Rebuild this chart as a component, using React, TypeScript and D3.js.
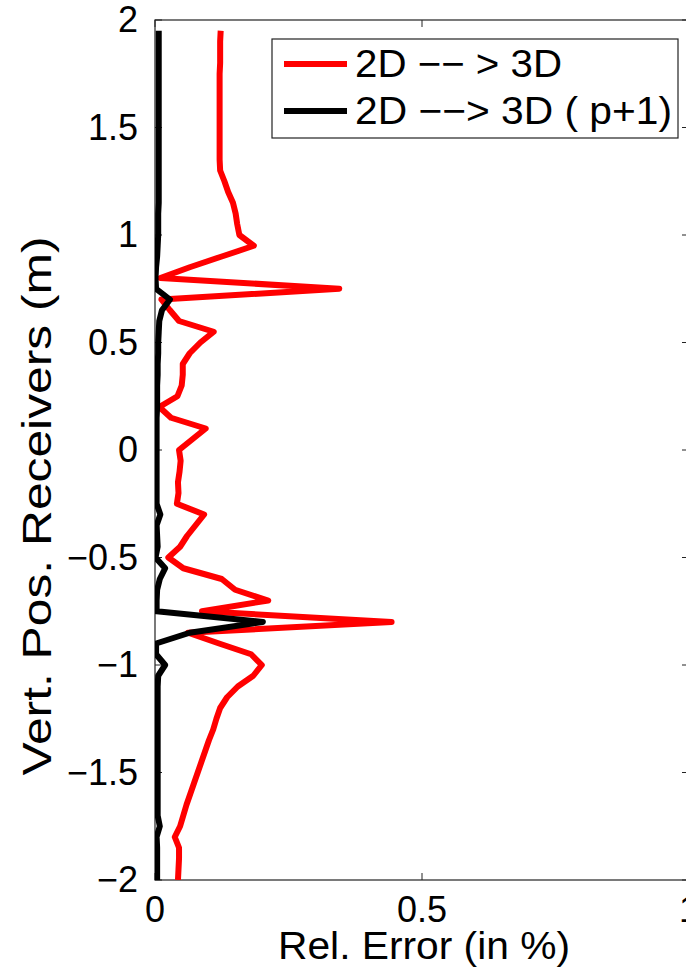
import React from "react";
import * as d3 from "d3";

// Receiver vertical positions (m), top to bottom
const positions = [
  1.95, 1.9, 1.85, 1.8, 1.75, 1.7, 1.65, 1.6, 1.55, 1.5, 1.45, 1.4, 1.35, 1.3, 1.25, 1.2,
  1.15, 1.1, 1.05, 1.0, 0.95, 0.9, 0.85, 0.8, 0.75, 0.7, 0.65, 0.6, 0.55, 0.5, 0.45, 0.4,
  0.35, 0.3, 0.25, 0.2, 0.15, 0.1, 0.05, 0.0, -0.05, -0.1, -0.15, -0.2, -0.25, -0.3, -0.35,
  -0.4, -0.45, -0.5, -0.55, -0.6, -0.65, -0.7, -0.75, -0.8, -0.85, -0.9, -0.95, -1.0, -1.05,
  -1.1, -1.15, -1.2, -1.25, -1.3, -1.35, -1.4, -1.45, -1.5, -1.55, -1.6, -1.65, -1.7, -1.75,
  -1.8, -1.85, -1.9, -1.95, -2.0,
];

// Relative error (%) of the plain 2D -> 3D conversion
const errPlain = [
  0.123, 0.122, 0.122, 0.122, 0.121, 0.121, 0.121, 0.121, 0.121, 0.121, 0.121, 0.121, 0.121,
  0.122, 0.13, 0.137, 0.146, 0.151, 0.154, 0.158, 0.185, 0.125, 0.065, 0.01, 0.345, 0.012,
  0.028, 0.045, 0.11, 0.085, 0.065, 0.052, 0.052, 0.05, 0.042, 0.008, 0.03, 0.095, 0.07,
  0.045, 0.048, 0.046, 0.043, 0.044, 0.041, 0.092, 0.076, 0.06, 0.047, 0.025, 0.053, 0.125,
  0.15, 0.212, 0.088, 0.443, 0.062, 0.12, 0.18, 0.2, 0.184, 0.155, 0.135, 0.122, 0.115,
  0.109, 0.101, 0.094, 0.087, 0.08, 0.073, 0.066, 0.059, 0.053, 0.047, 0.037, 0.045, 0.045,
  0.044, 0.043,
];

// Relative error (%) of the 2D -> 3D conversion with order p+1
const errP1 = [
  0.007, 0.007, 0.007, 0.007, 0.007, 0.007, 0.007, 0.007, 0.007, 0.007, 0.007, 0.007, 0.007,
  0.007, 0.007, 0.007, 0.007, 0.006, 0.006, 0.006, 0.005, 0.004, 0.002, 0.001, 0.002, 0.028,
  0.013, 0.008, 0.007, 0.006, 0.006, 0.005, 0.005, 0.004, 0.004, 0.004, 0.003, 0.003, 0.003,
  0.003, 0.003, 0.003, 0.003, 0.003, 0.003, 0.01, 0.003, 0.004, 0.005, 0.001, 0.019, 0.009,
  0.004, 0.003, 0.003, 0.202, 0.065, 0.002, 0.002, 0.019, 0.006, 0.005, 0.005, 0.005, 0.005,
  0.005, 0.005, 0.005, 0.005, 0.005, 0.005, 0.005, 0.005, 0.005, 0.009, 0.003, 0.004, 0.004,
  0.004, 0.004,
];

const xTicks = [0, 0.5, 1];
const yTicks = [-2, -1.5, -1, -0.5, 0, 0.5, 1, 1.5, 2];
const seriesNames = ["2D \u2212\u2212 > 3D", "2D \u2212\u2212> 3D ( p+1)"];
const seriesColors = ["#ff0000", "#000000"];
const xLabel = "Rel. Error (in %)";
const yLabel = "Vert. Pos. Receivers (m)";

const W = 686;
const H = 968;
const left = 155;
const right = 689;
const top = 20;
const bottom = 880;
const FONT = "'Liberation Sans', Arial, Helvetica, sans-serif";

const fmt = (v: number) => {
  const s = String(Math.abs(v));
  return v < 0 ? "\u2212" + s : s;
};

export default function App() {
  const x = d3.scaleLinear().domain([0, 1]).range([left, right]);
  const y = d3.scaleLinear().domain([-2, 2]).range([bottom, top]);

  const line = d3
    .line<[number, number]>()
    .x((d) => x(d[0]))
    .y((d) => y(d[1]));

  const series = [errPlain, errP1].map((vals) =>
    vals.map((v, i) => [v, positions[i]] as [number, number])
  );

  const tickLen = 7;
  const legendTextLen = [207, 317];

  return (
    <svg
      width={W}
      height={H}
      style={{ position: "absolute", left: 0, top: 0, background: "#fff" }}
      fontFamily={FONT}
    >
      <defs>
        <clipPath id="plotClip">
          <rect x={left} y={top} width={right - left} height={bottom - top} />
        </clipPath>
      </defs>

      {/* axes box */}
      <rect
        x={left}
        y={top}
        width={right - left}
        height={bottom - top}
        fill="none"
        stroke="#222"
        strokeWidth={1.2}
      />

      {/* inward ticks on all four sides */}
      {xTicks.map((t) => (
        <g key={"xt" + t}>
          <line x1={x(t)} x2={x(t)} y1={bottom} y2={bottom - tickLen} stroke="#222" strokeWidth={1} />
          <line x1={x(t)} x2={x(t)} y1={top} y2={top + tickLen} stroke="#222" strokeWidth={1} />
        </g>
      ))}
      {yTicks.map((t) => (
        <g key={"yt" + t}>
          <line x1={left} x2={left + tickLen} y1={y(t)} y2={y(t)} stroke="#222" strokeWidth={1} />
          <line x1={right} x2={right - tickLen} y1={y(t)} y2={y(t)} stroke="#222" strokeWidth={1} />
        </g>
      ))}

      {/* data lines */}
      <g clipPath="url(#plotClip)">
        {series.map((s, i) => (
          <path
            key={i}
            d={line(s) || ""}
            fill="none"
            stroke={seriesColors[i]}
            strokeWidth={6}
            strokeLinejoin="round"
            strokeLinecap="butt"
          />
        ))}
      </g>

      {/* tick labels */}
      {xTicks.map((t) => (
        <text
          key={"xl" + t}
          x={x(t)}
          y={bottom + 42}
          textAnchor="middle"
          fontSize={36}
          fill="#000"
        >
          {fmt(t)}
        </text>
      ))}
      {yTicks.map((t) => (
        <text
          key={"yl" + t}
          x={left - 17}
          y={y(t) + 12}
          textAnchor="end"
          fontSize={36}
          fill="#000"
        >
          {fmt(t)}
        </text>
      ))}

      {/* axis titles */}
      <text
        x={424}
        y={959}
        textAnchor="middle"
        fontSize={38}
        fill="#000"
        textLength={292}
        lengthAdjust="spacingAndGlyphs"
      >
        {xLabel}
      </text>
      <text
        transform={`translate(${51},${506}) rotate(-90)`}
        textAnchor="middle"
        fontSize={40}
        fill="#000"
        textLength={539}
        lengthAdjust="spacingAndGlyphs"
      >
        {yLabel}
      </text>

      {/* legend */}
      <g>
        <rect x={272} y={39} width={406} height={99} fill="#fff" stroke="#222" strokeWidth={1.2} />
        {seriesNames.map((name, i) => (
          <g key={name}>
            <line
              x1={284}
              x2={347}
              y1={64 + i * 47}
              y2={64 + i * 47}
              stroke={seriesColors[i]}
              strokeWidth={6}
            />
            <text
              x={355}
              y={64 + i * 47 + 13}
              fontSize={38}
              fill="#000"
              textLength={legendTextLen[i]}
              lengthAdjust="spacingAndGlyphs"
            >
              {name}
            </text>
          </g>
        ))}
      </g>
    </svg>
  );
}
